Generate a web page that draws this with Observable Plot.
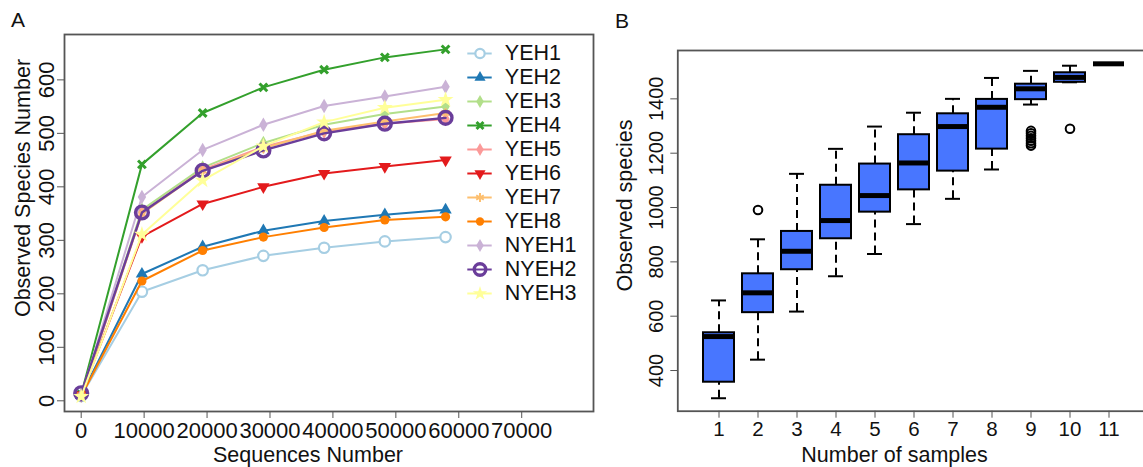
<!DOCTYPE html>
<html><head><meta charset="utf-8">
<script src="https://cdn.jsdelivr.net/npm/d3@7"></script>
<script src="https://cdn.jsdelivr.net/npm/@observablehq/plot@0.6"></script>
<style>
body{margin:0;background:#fff;}
#root{position:relative;width:1143px;height:467px;overflow:hidden;background:#fff;font-family:"Liberation Sans",Arial,sans-serif;}
#root svg{position:absolute;top:0;overflow:visible;}
.plabel{position:absolute;font-size:21px;line-height:1;color:#111;}
</style></head><body>
<div id="root"></div>
<script>
// ---------- Panel A data: rarefaction curves ----------
const sampleNames = ["YEH1","YEH2","YEH3","YEH4","YEH5","YEH6","YEH7","YEH8","NYEH1","NYEH2","NYEH3"];
const seriesColors = ["#A6CEE3","#1F78B4","#B2DF8A","#33A02C","#FB9A99","#E31A1C","#FDBF6F","#FF7F00","#CAB2D6","#6A3D9A","#FFFF99"];
const seqDepth = [0, 9650, 19300, 28950, 38600, 48250, 57900];
const yeh1  = [9, 204, 244, 271, 286, 298, 306];
const yeh2  = [10, 237, 288, 318, 336, 348, 357];
const yeh3  = [10, 357, 436, 482, 516, 536, 550];
const yeh4  = [12, 442, 538, 586, 619, 642, 657];
const yeh5  = [10, 352, 432, 475, 503, 518, 527];
const yeh6  = [11, 307, 368, 400, 425, 438, 450];
const yeh7  = [10, 350, 430, 472, 505, 522, 538];
const yeh8  = [9, 224, 281, 306, 324, 338, 344];
const nyeh1 = [10, 381, 469, 516, 551, 569, 587];
const nyeh2 = [14, 352, 430, 468, 500, 518, 529];
const nyeh3 = [8, 311, 412, 476, 521, 548, 563];
const xTicksA = [0, 10000, 20000, 30000, 40000, 50000, 60000, 70000];
const yTicksA = [0, 100, 200, 300, 400, 500, 600];

// ---------- Panel B data: box plot summary ----------
const sampleCounts = [1,2,3,4,5,6,7,8,9,10,11];
const whiskerLow  = [298, 440, 617, 747, 829, 939, 1032, 1140, 1379, 1461, 1529];
const quart1      = [357, 613, 771, 885, 983, 1065, 1134, 1215, 1397, 1461, 1529];
const medians     = [525, 686, 839, 952, 1044, 1164, 1298, 1369, 1437, 1479, 1529];
const quart3      = [539, 756, 912, 1082, 1160, 1268, 1345, 1398, 1454, 1496, 1529];
const whiskerHigh = [658, 883, 1124, 1216, 1298, 1349, 1400, 1477, 1503, 1522, 1529];
const outlierSample = [2, 9, 9, 9, 9, 9, 9, 9, 10];
const outlierValue  = [991, 1228, 1237, 1246, 1255, 1264, 1273, 1282, 1290];
const yTicksB = [400, 600, 800, 1000, 1200, 1400];

// ---------- styles ----------
const FONT = "Liberation Sans, Arial, sans-serif";
const markerStyles = [
  {symbol: "circle", kind: "hollow", fillColor: "white", r: 5.2, sw: 2.2},
  {symbol: "triangle", kind: "fill", r: 4.6},
  {symbol: "diamond", kind: "fill", r: 4.4},
  {symbol: "times", kind: "stroke", r: 3.6, sw: 3},
  {symbol: "diamond", kind: "fill", r: 4.4},
  {symbol: "triangle", kind: "fill", r: 4.6, rotate: 180},
  {symbol: "asterisk", kind: "stroke", r: 4.6, sw: 2},
  {symbol: "circle", kind: "fill", r: 4.6},
  {symbol: "diamond", kind: "fill", r: 4.4},
  {symbol: "circle", kind: "hollow", fillColor: "none", r: 6.4, sw: 3.4},
  {symbol: "star", kind: "fill", r: 5}
];
const seriesValues = [yeh1, yeh2, yeh3, yeh4, yeh5, yeh6, yeh7, yeh8, nyeh1, nyeh2, nyeh3];

function dotMark(data, st, opts = {}) {
  const base = {x: opts.x ?? "depth", y: opts.y ?? "obs", symbol: st.symbol, r: st.r * (opts.scale ?? 1), rotate: st.rotate ?? 0};
  if (st.kind === "fill") return Plot.dot(data, {...base, fill: "series", stroke: "none"});
  if (st.kind === "hollow") return Plot.dot(data, {...base, fill: st.fillColor, stroke: "series", strokeWidth: st.sw});
  return Plot.dot(data, {...base, stroke: "series", strokeWidth: st.sw});
}

const root = document.getElementById("root");

// ---------- Panel A ----------
const rows = sampleNames.flatMap((s, i) => seqDepth.map((d, j) => ({series: s, depth: d, obs: seriesValues[i][j]})));
const seriesMarks = sampleNames.flatMap((s, i) => {
  const data = rows.filter(r => r.series === s);
  return [
    Plot.line(data, {x: "depth", y: "obs", stroke: "series", strokeWidth: s === "NYEH2" ? 2.4 : 2}),
    dotMark(data, markerStyles[i])
  ];
});
const plotA = Plot.plot({
  width: 600, height: 467,
  marginLeft: 64, marginTop: 34, marginRight: 7, marginBottom: 56,
  x: {domain: [-2654, 81408]},
  y: {domain: [-20, 684.8]},
  color: {domain: sampleNames, range: seriesColors},
  style: {fontFamily: FONT, fontSize: "20px", color: "#111", background: "transparent", overflow: "visible"},
  marks: [
    Plot.axisX({ticks: xTicksA, tickSize: 7, tickPadding: 4, tickFormat: d => String(d), label: null, stroke: "#555", fill: "#111", fontSize: 22}),
    Plot.axisY({ticks: yTicksA, tickSize: 7, tickPadding: 4, tickRotate: -90, tickFormat: d => String(d), label: null, stroke: "#555", fill: "#111", fontSize: 22}),
    ...seriesMarks,
    Plot.frame({stroke: "#555", strokeWidth: 1.8}),
    Plot.text(["Sequences Number"], {text: d => d, frameAnchor: "bottom", textAnchor: "middle", dx: -21, dy: 50, fontSize: 21.5, fill: "#111"}),
    Plot.text(["Observed Species Number"], {text: d => d, frameAnchor: "left", textAnchor: "middle", rotate: -90, dx: -41.5, dy: -35, fontSize: 21.5, fill: "#111"})
  ]
});
plotA.style.left = "0px";
root.appendChild(plotA);

// ---------- Legend for panel A ----------
const legendRows = sampleNames.map(s => ({series: s}));
const legendPlot = Plot.plot({
  width: 140, height: 290, margin: 0,
  x: {domain: [0, 1], range: [7.3, 31.7], axis: null},
  y: {type: "point", domain: sampleNames, range: [19.3, 266.7], padding: 0, axis: null},
  color: {domain: sampleNames, range: seriesColors},
  style: {fontFamily: FONT, fontSize: "20px", color: "#111", background: "transparent", overflow: "visible"},
  marks: [
    ...sampleNames.flatMap((s, i) => {
      const d = legendRows.filter(r => r.series === s);
      return [
        Plot.ruleY(d, {y: "series", x1: 0, x2: 1, stroke: "series", strokeWidth: 2}),
        dotMark(d, markerStyles[i], {x: () => 0.5, y: "series", scale: 0.9})
      ];
    }),
    Plot.text(legendRows, {x: 1, y: "series", text: "series", textAnchor: "start", dx: 12.6, fontSize: 21.5, fill: "#111"})
  ]
});
legendPlot.style.left = "460px";
legendPlot.style.top = "30px";
root.appendChild(legendPlot);

// ---------- Panel B ----------
const stats = sampleCounts.map((n, i) => ({n, lo: whiskerLow[i], q1: quart1[i], med: medians[i], q3: quart3[i], hi: whiskerHigh[i]}));
const outliers = outlierSample.map((n, i) => ({n, v: outlierValue[i]}));
const plotB = Plot.plot({
  width: 560, height: 467,
  marginLeft: 77.3, marginTop: 50, marginRight: 10, marginBottom: 56.3,
  x: {type: "band", domain: sampleCounts, paddingInner: 0.2, paddingOuter: 0.549},
  y: {domain: [250.3, 1578]},
  style: {fontFamily: FONT, fontSize: "20px", color: "#111", background: "transparent", overflow: "visible"},
  marks: [
    Plot.axisX({tickSize: 7, tickPadding: 3, label: null, stroke: "#555", fill: "#111", fontSize: 20.5}),
    Plot.axisY({ticks: yTicksB, tickSize: 7, tickPadding: 8, tickRotate: -90, tickFormat: d => String(d), label: null, stroke: "#555", fill: "#111", fontSize: 20}),
    Plot.ruleX(stats, {x: "n", y1: "q3", y2: "hi", stroke: "#000", strokeWidth: 2, strokeDasharray: "8,5"}),
    Plot.ruleX(stats, {x: "n", y1: "lo", y2: "q1", stroke: "#000", strokeWidth: 2, strokeDasharray: "8,5"}),
    Plot.tickY(stats, {x: "n", y: "hi", stroke: "#000", strokeWidth: 2, insetLeft: 8, insetRight: 8}),
    Plot.tickY(stats, {x: "n", y: "lo", stroke: "#000", strokeWidth: 2, insetLeft: 8, insetRight: 8}),
    Plot.barY(stats, {x: "n", y1: "q1", y2: "q3", fill: "#4876FF", stroke: "#000", strokeWidth: 2}),
    Plot.tickY(stats, {x: "n", y: "med", stroke: "#000", strokeWidth: 5}),
    Plot.dot(outliers, {x: "n", y: "v", r: 4.3, stroke: "#000", strokeWidth: 2, fill: "none"}),
    Plot.frame({stroke: "#555", strokeWidth: 1.8}),
    Plot.text(["Number of samples"], {text: d => d, frameAnchor: "bottom", textAnchor: "middle", dx: -19.6, dy: 50.5, fontSize: 21.5, fill: "#111"}),
    Plot.text(["Observed species"], {text: d => d, frameAnchor: "left", textAnchor: "middle", rotate: -90, dx: -52.3, dy: -25.3, fontSize: 21.5, fill: "#111"})
  ]
});
plotB.style.left = "600px";
root.appendChild(plotB);

// ---------- panel letters ----------
for (const [t, l, tp] of [["A", 11, 9], ["B", 615, 10]]) {
  const el = document.createElement("div");
  el.className = "plabel";
  el.textContent = t;
  el.style.left = l + "px";
  el.style.top = tp + "px";
  root.appendChild(el);
}
</script>
</body></html>
